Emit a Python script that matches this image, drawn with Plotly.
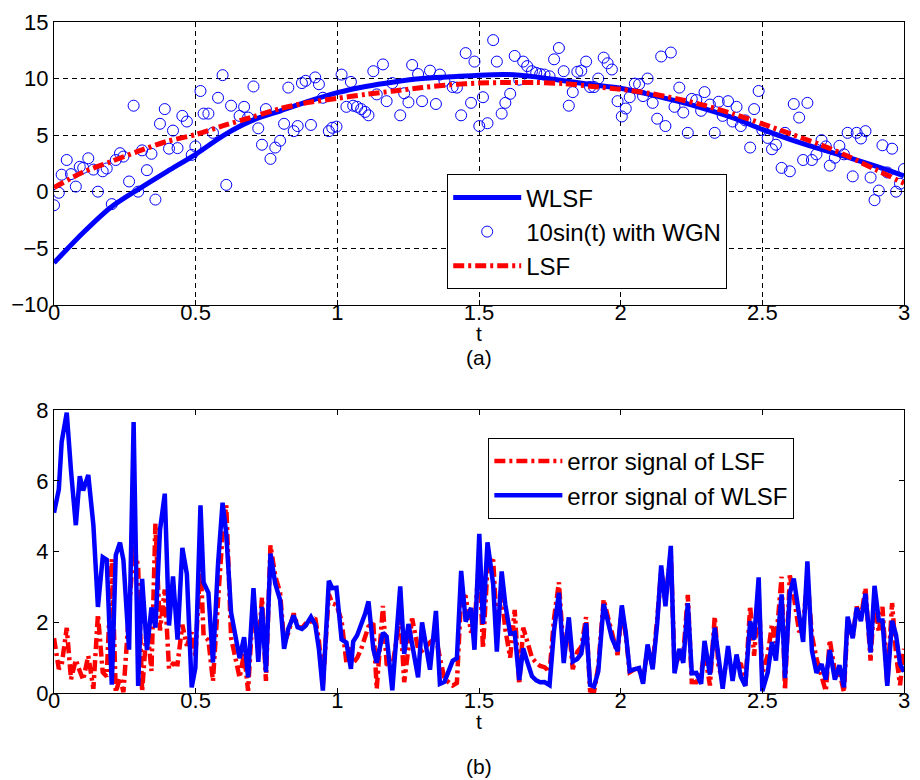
import numpy as np
import plotly.graph_objects as go

# ---------------- data ----------------
t_data = [0.000, 0.017, 0.027, 0.045, 0.060, 0.077, 0.091, 0.103, 0.121, 0.139,
          0.155, 0.172, 0.186, 0.204, 0.218, 0.233, 0.245, 0.265, 0.281, 0.297,
          0.311, 0.328, 0.344, 0.358, 0.374, 0.391, 0.406, 0.420, 0.436, 0.453,
          0.469, 0.486, 0.499, 0.517, 0.528, 0.545, 0.561, 0.579, 0.595, 0.608,
          0.625, 0.655, 0.671, 0.685, 0.704, 0.721, 0.734, 0.748, 0.764, 0.781,
          0.798, 0.812, 0.827, 0.846, 0.860, 0.875, 0.888, 0.907, 0.922, 0.935,
          0.949, 0.970, 0.982, 0.997, 1.015, 1.032, 1.048, 1.056, 1.070, 1.084,
          1.098, 1.110, 1.127, 1.139, 1.161, 1.174, 1.194, 1.222, 1.236, 1.251,
          1.264, 1.285, 1.299, 1.327, 1.348, 1.362, 1.378, 1.407, 1.422, 1.437,
          1.453, 1.472, 1.484, 1.501, 1.514, 1.530, 1.550, 1.563, 1.580, 1.593,
          1.610, 1.626, 1.642, 1.656, 1.670, 1.687, 1.702, 1.716, 1.731, 1.749,
          1.765, 1.782, 1.799, 1.817, 1.831, 1.847, 1.861, 1.878, 1.892, 1.906,
          1.921, 1.940, 1.954, 1.969, 1.989, 2.004, 2.018, 2.032, 2.050, 2.065,
          2.079, 2.095, 2.113, 2.129, 2.143, 2.158, 2.177, 2.190, 2.207, 2.221,
          2.237, 2.251, 2.267, 2.284, 2.296, 2.315, 2.332, 2.346, 2.360, 2.379,
          2.395, 2.409, 2.424, 2.440, 2.457, 2.471, 2.487, 2.500, 2.519, 2.534,
          2.548, 2.568, 2.580, 2.597, 2.611, 2.630, 2.644, 2.659, 2.675, 2.691,
          2.709, 2.724, 2.738, 2.756, 2.772, 2.788, 2.801, 2.819, 2.833, 2.848,
          2.864, 2.882, 2.896, 2.911, 2.924, 2.941, 2.958, 2.972, 2.986, 3.000]

y_data = [-1.2, -0.1, 1.5, 2.8, 1.55, 0.45, 2.2, 2.1, 2.95, 1.95,
          0.0, 1.8, 2.05, -1.1, 2.8, 3.4, 3.1, 0.9, 7.6, 0.0,
          3.65, 1.9, 3.35, -0.7, 6.0, 7.3, 3.8, 5.4, 3.85, 6.7,
          6.2, 3.25, 4.0, 8.9, 6.9, 6.9, 5.2, 8.3, 10.3, 0.6,
          7.6, 6.7, 7.5, 6.55, 9.3, 5.6, 4.15, 7.3, 2.9, 3.9,
          4.5, 6.0, 9.2, 5.35, 5.8, 9.6, 9.8, 5.9, 10.1, 9.5,
          8.3, 5.35, 5.65, 5.75, 10.35, 7.5, 9.7, 7.6, 7.5, 7.3,
          7.05, 6.75, 10.65, 8.6, 11.25, 8.0, 9.6, 6.75, 8.7, 7.9,
          11.2, 10.4, 8.0, 10.7, 7.75, 10.35, 9.8, 9.25, 9.2, 6.75,
          12.25, 7.85, 11.5, 5.8, 8.35, 6.05, 13.4, 11.5, 6.9, 7.85,
          8.65, 12.0, 9.9, 11.5, 11.1, 10.65, 10.5, 10.4, 10.35, 10.2,
          11.7, 12.7, 10.65, 7.6, 8.8, 10.6, 10.7, 11.5, 9.25, 9.25,
          10.0, 11.85, 11.35, 10.8, 8.0, 6.65, 7.35, 8.35, 9.55, 9.5,
          8.45, 10.0, 7.85, 6.45, 11.95, 5.8, 12.3, 7.5, 9.2, 7.0,
          5.2, 8.2, 8.1, 7.15, 8.8, 7.7, 5.2, 7.95, 6.7, 8.0,
          6.2, 7.5, 5.8, 6.3, 3.9, 7.3, 8.9, 5.45, 4.75, 3.75,
          4.15, 2.1, 5.2, 1.8, 7.75, 6.55, 2.8, 7.85, 2.8, 3.3,
          4.55, 4.0, 2.3, 3.0, 4.05, 3.3, 5.2, 1.35, 5.2, 4.7,
          5.35, 1.25, -0.75, 0.1, 4.1, 1.7, 3.8, 0.0, 0.7, 2.0]

t_fit = [0.0, 0.1, 0.2, 0.3, 0.4, 0.5, 0.6, 0.7, 0.8, 0.9,
         1.0, 1.1, 1.2, 1.3, 1.4, 1.5, 1.6, 1.7, 1.8, 1.9,
         2.0, 2.1, 2.2, 2.3, 2.4, 2.5, 2.6, 2.7, 2.8, 2.9, 3.0]
wlsf = [-6.3, -3.7, -1.4, 0.25, 1.8, 3.3, 5.0, 6.3, 7.15, 8.0,
        8.75, 9.3, 9.7, 10.0, 10.15, 10.3, 10.35, 10.15, 9.8, 9.45,
        9.15, 8.6, 8.0, 7.3, 6.5, 5.5, 4.6, 3.8, 3.05, 2.25, 1.4]
lsf = [0.35, 1.7, 2.65, 3.6, 4.45, 5.05, 5.85, 6.6, 7.35, 7.9,
       8.25, 8.6, 8.9, 9.2, 9.45, 9.6, 9.65, 9.65, 9.55, 9.3,
       9.05, 8.7, 8.2, 7.6, 6.85, 6.0, 5.1, 4.2, 3.15, 1.95, 0.75]

x_ticks = [0, 0.5, 1, 1.5, 2, 2.5, 3]
x_ticklabels = ["0", "0.5", "1", "1.5", "2", "2.5", "3"]
y_ticks_a = [-10, -5, 0, 5, 10, 15]
y_ticks_b = [0, 2, 4, 6, 8]

# error signals: |noisy sample - fitted curve| at each sample time
td = np.array(t_data)
yd = np.array(y_data)
err_lsf = np.abs(yd - np.interp(td, t_fit, lsf))
err_wlsf = np.abs(yd - np.interp(td, t_fit, wlsf))

BLUE = "#0000FF"
RED = "#FF0000"
FONT = "Liberation Sans, Arial, sans-serif"
DASHDOT = "11px,4px,3px,4px"

fig = go.Figure()

# ---- panel (a)
fig.add_trace(go.Scatter(x=t_fit, y=wlsf, mode="lines", name="WLSF",
                         line=dict(color=BLUE, width=5, shape="spline", smoothing=0.8),
                         xaxis="x", yaxis="y", legend="legend"))
fig.add_trace(go.Scatter(x=t_data, y=y_data, mode="markers", name="10sin(t) with WGN",
                         marker=dict(symbol="circle-open", size=11, color=BLUE,
                                     line=dict(width=1, color=BLUE)),
                         xaxis="x", yaxis="y", legend="legend"))
fig.add_trace(go.Scatter(x=t_fit, y=lsf, mode="lines", name="LSF",
                         line=dict(color=RED, width=5, dash=DASHDOT,
                                   shape="spline", smoothing=0.8),
                         xaxis="x", yaxis="y", legend="legend"))

# ---- panel (b)
fig.add_trace(go.Scatter(x=t_data, y=err_lsf, mode="lines", name="error signal of LSF",
                         line=dict(color=RED, width=4.5, dash=DASHDOT),
                         xaxis="x2", yaxis="y2", legend="legend2"))
fig.add_trace(go.Scatter(x=t_data, y=err_wlsf, mode="lines", name="error signal of WLSF",
                         line=dict(color=BLUE, width=4.5),
                         xaxis="x2", yaxis="y2", legend="legend2"))

ax_common = dict(showline=True, linecolor="black", linewidth=1, mirror="ticks",
                 ticks="inside", ticklen=5, tickcolor="black", zeroline=False,
                 tickfont=dict(family=FONT, size=22, color="black"))

legend_common = dict(xanchor="left", yanchor="top", bgcolor="white",
                     bordercolor="black", borderwidth=1,
                     font=dict(family=FONT, size=24, color="black"),
                     itemwidth=68, tracegroupgap=0)

fig.update_layout(
    width=920, height=780,
    margin=dict(l=54, r=10, t=19, b=87),
    paper_bgcolor="white", plot_bgcolor="white",
    font=dict(family=FONT, size=22, color="black"),
    xaxis=dict(domain=[0, 1], range=[0, 3], anchor="y", tickvals=x_ticks,
               ticktext=x_ticklabels, showgrid=True, gridcolor="black", gridwidth=1,
               griddash="5px,4px", ticklabelstandoff=-12, **ax_common),
    yaxis=dict(domain=[0.5786, 1], range=[-10, 15], anchor="x", tickvals=y_ticks_a,
               showgrid=True, gridcolor="black", gridwidth=1, griddash="5px,4px",
               **ax_common),
    xaxis2=dict(domain=[0, 1], range=[0, 3], anchor="y2", tickvals=x_ticks,
                ticktext=x_ticklabels, showgrid=False, ticklabelstandoff=-12,
                **ax_common),
    yaxis2=dict(domain=[0, 0.4214], range=[0, 8], anchor="x2", tickvals=y_ticks_b,
                showgrid=False, **ax_common),
    legend=dict(x=0.4626, y=0.773, **legend_common),
    legend2=dict(x=0.511, y=0.380, **legend_common),
    annotations=[
        dict(text="t", x=0.5, y=0.5356, xref="paper", yref="paper", showarrow=False,
             xanchor="center", yanchor="middle", font=dict(family=FONT, size=21)),
        dict(text="(a)", x=0.5, y=0.5000, xref="paper", yref="paper", showarrow=False,
             xanchor="center", yanchor="middle", font=dict(family=FONT, size=21)),
        dict(text="t", x=0.5, y=-0.0430, xref="paper", yref="paper", showarrow=False,
             xanchor="center", yanchor="middle", font=dict(family=FONT, size=21)),
        dict(text="(b)", x=0.5, y=-0.1100, xref="paper", yref="paper", showarrow=False,
             xanchor="center", yanchor="middle", font=dict(family=FONT, size=21)),
    ],
)

fig.write_html("out.html")
